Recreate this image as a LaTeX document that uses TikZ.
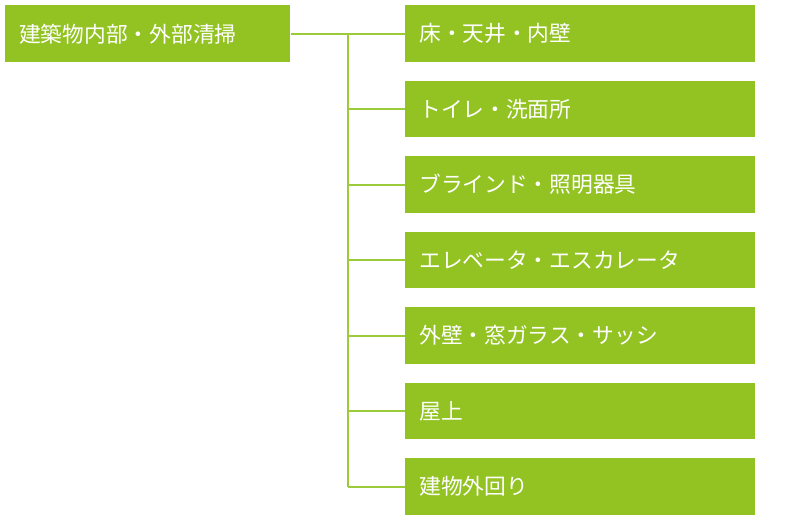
\documentclass[tikz,border=0pt]{standalone}
\usepackage{fontspec}
\setmainfont{Noto Sans CJK JP}
\usetikzlibrary{positioning}
\definecolor{leaf}{RGB}{146,195,34}
\definecolor{stem}{RGB}{155,203,59}

\begin{document}
\begin{tikzpicture}[x=0.75pt,y=-0.75pt,
    box/.style={fill=leaf, text=white, anchor=north west, inner xsep=10.5pt, inner ysep=0pt,
        minimum height=42.4pt, text width=241.5pt, align=left, font=\fontsize{16.3}{19}\selectfont},
    link/.style={draw=stem, line width=1.5pt}]
    \useasboundingbox (0,0) rectangle (800,519);
    \node[box, text width=192.75pt, minimum height=42.75pt] (root) at (5,5) {建築物内部・外部清掃};
    \path (root.east) ++(57,0) coordinate (fork);
    \draw[link] (root.east) -- (fork);
    \foreach \name [count=\i from 0] in {床・天井・内壁, トイレ・洗面所, ブラインド・照明器具,
        エレベータ・エスカレータ, 外壁・窓ガラス・サッシ, 屋上, 建物外回り} {
        \node[box] (item\i) at (405, 5+75.5*\i) {\name};
        \draw[link] (fork |- item\i.west) -- (item\i.west);
    }
    \draw[link] (fork) -- (fork |- item6.west);
\end{tikzpicture}
\end{document}
